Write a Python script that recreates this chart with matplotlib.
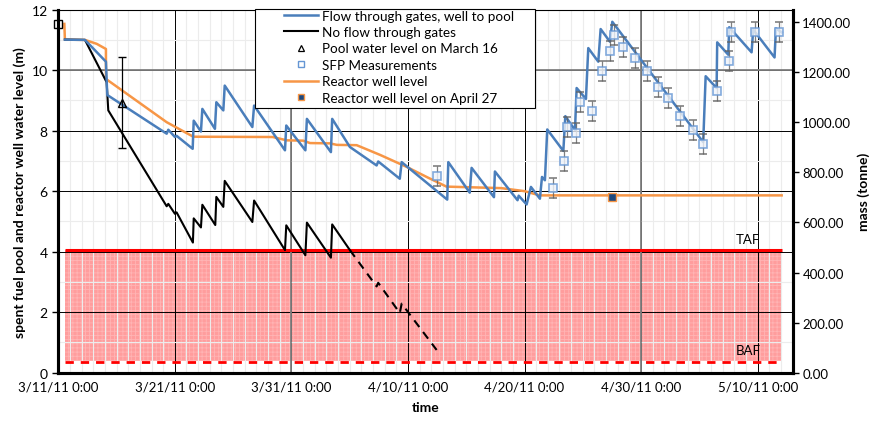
import matplotlib
matplotlib.use('Agg')
import matplotlib.pyplot as plt
from matplotlib.lines import Line2D
from matplotlib.patches import Rectangle

plt.rcParams['font.family'] = ['Lato', 'DejaVu Sans']
plt.rcParams['hatch.linewidth'] = 0.6

# time is counted in days after 3/11/11 0:00
tick_days = [0, 10, 20, 30, 40, 50, 60]
tick_labels = ['3/11/11 0:00', '3/21/11 0:00', '3/31/11 0:00', '4/10/11 0:00',
               '4/20/11 0:00', '4/30/11 0:00', '5/10/11 0:00']

# pool level with flow through the gates (m)
flow_days = [0.57, 2.29, 4.09, 4.2, 9.3, 9.44, 10.01, 10.15, 11.53, 11.62, 12.24, 12.36,
             13.44, 13.56, 14.16, 14.28, 16.65, 16.8, 19.45, 19.56, 21.2, 21.33, 23.39, 23.5,
             25.02, 27.31, 27.45, 29.3, 29.46, 33.37, 33.46, 35.3, 35.46, 37.38, 37.46, 39.4,
             39.5, 40.18, 40.55, 41.32, 41.5, 41.75, 41.95, 43.33, 43.5, 44.33, 44.47, 45.27,
             45.47, 46.33, 46.53, 47.33, 47.53, 55.33, 55.54, 56.48, 56.53, 57.48, 57.56,
             59.48, 59.62, 61.45, 61.57, 62.06]
flow_level = [11.01, 11.0, 10.28, 9.18, 7.9, 8.03, 7.79, 7.83, 7.40, 8.33, 7.97, 8.72,
              8.06, 8.94, 8.67, 9.49, 8.12, 8.83, 7.35, 8.17, 7.35, 8.39, 7.29, 8.39,
              7.46, 6.85, 6.98, 6.41, 6.96, 5.72, 6.96, 5.95, 6.77, 5.8, 6.65, 5.70,
              5.85, 5.56, 6.14, 5.75, 6.47, 6.36, 8.04, 7.33, 8.48, 8.02, 9.41, 9.05,
              10.73, 10.28, 11.36, 10.94, 11.6, 7.62, 9.8, 9.41, 10.92, 10.51, 11.42,
              10.59, 11.34, 10.42, 11.38, 11.25]

# pool level without flow through the gates (m), above TAF
noflow_days = [0.57, 2.29, 4.15, 4.29, 9.3, 9.44, 10.01, 10.15, 11.55, 11.62, 12.24, 12.36,
               13.47, 13.56, 14.16, 14.28, 16.65, 16.8, 19.45, 19.56, 21.2, 21.33, 23.39,
               23.5, 25.02]
noflow_level = [11.01, 11.0, 9.6, 8.67, 5.5, 5.58, 5.25, 5.3, 4.3, 5.1, 4.8, 5.55,
                4.88, 5.81, 5.48, 6.34, 4.98, 5.69, 4.05, 4.87, 3.88, 4.96, 3.8,
                4.9, 4.05]
# ... and below TAF
uncovered_days = [25.02, 27.31, 27.45, 29.3, 29.46, 32.46]
uncovered_level = [4.05, 2.85, 2.97, 1.97, 2.28, 0.75]

# reactor well level (m)
well_days = [0.52, 0.57, 2.29, 3.3, 4.09, 4.09, 9.3, 11.58, 18.4, 19.6, 21.0, 21.6,
             23.3, 23.9, 25.6, 27.6, 29.9, 31.6, 33.3, 38.0, 40.0, 41.3, 62.06]
well_level = [11.53, 11.01, 11.0, 10.87, 10.7, 9.71, 8.28, 7.8, 7.79, 7.68, 7.67, 7.59,
              7.58, 7.53, 7.52, 7.2, 6.8, 6.47, 6.15, 6.1, 6.0, 5.86, 5.86]

# single observations
start_day, start_level = 0.0, 11.53
march16_day, march16_level, march16_err = 5.5, 8.93, 1.5
april27_day, april27_level = 47.5, 5.81

# SFP measurements (tonne)
sfp_days = [32.5, 42.41, 43.38, 43.61, 44.41, 44.75, 45.78, 46.64, 47.35, 47.67, 48.47,
            49.45, 50.47, 51.45, 52.3, 53.33, 54.42, 55.33, 56.48, 57.51, 57.73, 59.74, 61.8]
sfp_mass = [786, 736, 846, 982, 957, 1080, 1046, 1204, 1286, 1349, 1302,
            1258, 1204, 1142, 1096, 1026, 970, 912, 1125, 1245, 1360, 1360, 1360]
sfp_err = 40

# fuel region
taf, baf = 4.07, 0.35
fuel_start, fuel_end = 0.57, 62.05

blue = '#4a7ebb'
orange = '#f79646'

fig = plt.figure(figsize=(8.71, 4.27), dpi=100)
ax = fig.add_axes([0.0669, 0.125, 0.8431, 0.850])
ax2 = ax.twinx()

ax.set_xlim(0, 63)
ax.set_ylim(0, 12)
ax2.set_ylim(0, 1450)

# grid
ax.set_axisbelow(True)
ax.set_xticks(range(0, 64), minor=True)
ax.set_yticks(range(0, 13), minor=True)
ax.grid(which='minor', color='#ececec', lw=0.8)
ax.grid(which='major', color='black', lw=0.7)
for d in [20, 50]:
    ax.axvline(d, color='#808080', lw=1.3, zorder=0.6)
ax.axhline(10, color='#808080', lw=1.3, zorder=0.6)

# uncovered fuel zone
ax.fill_between([fuel_start, fuel_end], baf + 0.05, taf, facecolor='#ff9d9d',
                edgecolor='#ffb4b4', hatch='++++', lw=0, zorder=0.3)
ax.hlines(taf, fuel_start, fuel_end, color='#ff0000', lw=2.2, zorder=2)
ax.hlines(baf, fuel_start, fuel_end, color='#ff0000', lw=2, linestyles=(0, (3, 2.5)), zorder=2)
ax.text(59.2, taf + 0.15, 'TAF', ha='center', va='bottom', fontsize=9.5)
ax.text(59.2, baf + 0.2, 'BAF', ha='center', va='bottom', fontsize=9.5)

# level curves
ax.plot(well_days, well_level, color=orange, lw=1.8, zorder=3)
ax.plot(noflow_days, noflow_level, color='black', lw=1.5, zorder=3)
ax.plot(uncovered_days, uncovered_level, color='black', lw=1.5, ls=(0, (4, 3)), zorder=3)
ax.plot(flow_days, flow_level, color=blue, lw=1.8, zorder=4)

ax.plot(start_day, start_level, 's', mfc='none', mec='black', ms=6, mew=1, clip_on=False, zorder=5)
ax.errorbar(march16_day, march16_level, yerr=march16_err, fmt='^', mfc='none', mec='black',
            ms=6, mew=1, ecolor='black', elinewidth=0.9, capsize=3, zorder=5)
ax.plot(april27_day, april27_level, 's', mfc='#1f497d', mec=orange, ms=6, mew=1, zorder=5)

ax2.errorbar(sfp_days, sfp_mass, yerr=sfp_err, fmt='s', mfc='#eef3fa', mec='#6596d4',
             ms=6, mew=1.2, alpha=0.8, ecolor='#606060', elinewidth=0.9, capsize=3)

# axes styling
ax.set_xticks(tick_days)
ax.set_xticklabels(tick_labels)
ax.set_yticks(range(0, 13, 2))
ax.tick_params(axis='x', which='both', length=0, labelsize=9.5, pad=6)
ax.tick_params(axis='y', which='major', length=4, width=1, labelsize=10, direction='out')
ax.tick_params(axis='y', which='minor', length=0)
ax2.set_yticks(range(0, 1401, 200))
ax2.set_yticklabels([f'{v:.2f}' for v in range(0, 1401, 200)])
ax2.tick_params(axis='y', length=4, width=1, labelsize=9.5, pad=3, direction='out')

for a in (ax, ax2):
    a.spines['top'].set_visible(False)
    for s in ('left', 'right', 'bottom'):
        a.spines[s].set_linewidth(2.2)
ax.axhline(12, color='black', lw=0.8, clip_on=False)

ax.set_xlabel('time', fontweight='bold', fontsize=10, labelpad=6)
ax.set_ylabel('spent fuel pool and reactor well water level (m)', fontweight='bold', fontsize=10)
ax2.set_ylabel('mass (tonne)', fontweight='bold', fontsize=10, labelpad=4)

handles = [
    Line2D([], [], color=blue, lw=1.8),
    Line2D([], [], color='black', lw=1.5),
    Line2D([], [], ls='none', marker='^', mfc='none', mec='black', ms=5, mew=0.9),
    Line2D([], [], ls='none', marker='s', mfc='none', mec='#6596d4', ms=5, mew=1),
    Line2D([], [], color=orange, lw=1.8),
    Line2D([], [], ls='none', marker='s', mfc='#1f497d', mec=orange, ms=5, mew=1),
]
labels = ['Flow through gates, well to pool', 'No flow through gates',
          'Pool water level on March 16', 'SFP Measurements', 'Reactor well level',
          'Reactor well level on April 27']

# legend box, with the entries set in from its left edge
box_l, box_r, box_t, box_b = 254.7 / 871, 535 / 871, 1 - 10 / 427, 1 - 109 / 427
fig.add_artist(Rectangle((box_l, box_b), box_r - box_l, box_t - box_b, transform=fig.transFigure,
                         facecolor='white', edgecolor='black', lw=0.8, zorder=10))
leg = fig.legend(handles, labels, loc='upper left', bbox_to_anchor=(284 / 871, 1 - 10.5 / 427),
                 fontsize=9.7, frameon=False, borderaxespad=0, borderpad=0,
                 handlelength=2.5, handletextpad=0.3, labelspacing=0.33)
leg.set_zorder(11)

fig.savefig('out.png', dpi=100)
